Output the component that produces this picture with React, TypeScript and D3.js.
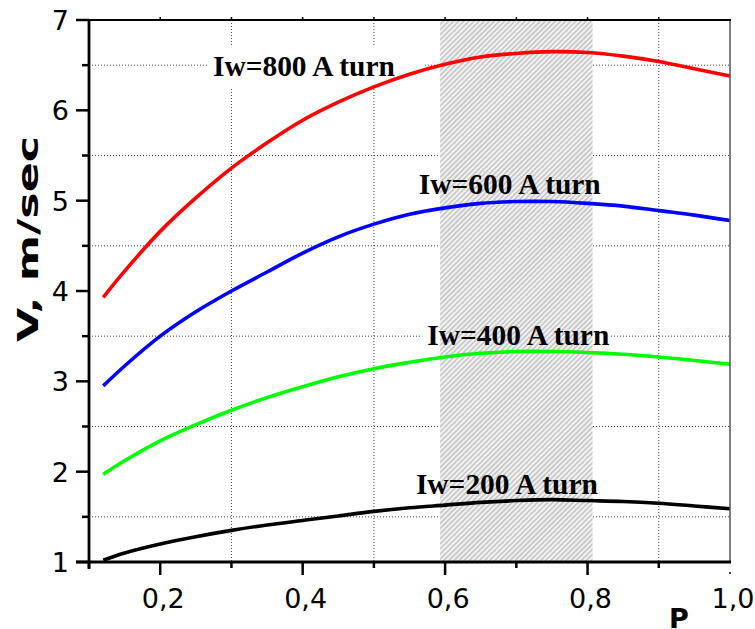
import { useRef, useEffect } from "react"
import * as d3 from "d3"

const pValues = [0.12, 0.15, 0.2, 0.25, 0.3, 0.35, 0.4, 0.45, 0.5, 0.55, 0.6, 0.65, 0.7, 0.75, 0.8, 0.85, 0.9, 0.95, 1.0]
const v800 = [3.93, 4.22, 4.66, 5.03, 5.36, 5.64, 5.89, 6.09, 6.26, 6.4, 6.51, 6.59, 6.63, 6.65, 6.64, 6.6, 6.54, 6.46, 6.38]
const v600 = [2.95, 3.17, 3.5, 3.77, 4.0, 4.21, 4.42, 4.6, 4.74, 4.85, 4.92, 4.97, 4.99, 4.99, 4.97, 4.94, 4.89, 4.84, 4.78]
const v400 = [1.97, 2.12, 2.34, 2.52, 2.68, 2.82, 2.94, 3.05, 3.14, 3.21, 3.27, 3.31, 3.33, 3.33, 3.32, 3.3, 3.27, 3.23, 3.19]
const v200 = [1.02, 1.1, 1.2, 1.28, 1.35, 1.41, 1.46, 1.51, 1.56, 1.6, 1.63, 1.66, 1.68, 1.69, 1.68, 1.67, 1.65, 1.62, 1.59]

const seriesNames = ["Iw=800 A turn", "Iw=600 A turn", "Iw=400 A turn", "Iw=200 A turn"]
const seriesColors = ["#ff0000", "#0000ff", "#00ff00", "#000000"]
const labelP = [0.274, 0.563, 0.575, 0.559]
const labelV = [6.38, 5.07, 3.4, 1.75]

const xMajorTicks = [0.2, 0.4, 0.6, 0.8, 1.0]
const xMinorTicks = [0.1, 0.3, 0.5, 0.7, 0.9]
const xTickLabels = ["0,2", "0,4", "0,6", "0,8", "1,0"]
const yMajorTicks = [1, 2, 3, 4, 5, 6, 7]
const yMinorTicks = [1.5, 2.5, 3.5, 4.5, 5.5, 6.5]
const shadedRange = [0.593, 0.807]

export default function App() {
  const svgRef = useRef<SVGSVGElement | null>(null)

  useEffect(() => {
    if (!svgRef.current) return
    const root = d3.select(svgRef.current)
    root.selectAll("*").remove()

    const left = 89, right = 730, top = 20, bottom = 562

    const x = d3.scaleLinear().domain([0.1, 1.0]).range([left, right])
    const y = d3.scaleLinear().domain([1, 7]).range([bottom, top])

    const sans = "'DejaVu Sans', Verdana, sans-serif"
    const serif = "'Liberation Serif', 'Times New Roman', serif"

    // hatch pattern
    const defs = root.append("defs")
    const pat = defs
      .append("pattern")
      .attr("id", "hatch")
      .attr("patternUnits", "userSpaceOnUse")
      .attr("width", 3.6)
      .attr("height", 3.6)
      .attr("patternTransform", "rotate(45)")
    pat.append("rect").attr("width", 3.6).attr("height", 3.6).attr("fill", "#f3f3f3")
    pat.append("line").attr("x1", 1).attr("x2", 1).attr("y1", 0).attr("y2", 3.6).attr("stroke", "#c4c4c4").attr("stroke-width", 1.6)

    // dotted grid
    const grid = root.append("g").attr("stroke", "#444").attr("stroke-width", 1).attr("stroke-dasharray", "1,2")
    grid
      .selectAll("line.h")
      .data(yMinorTicks)
      .enter()
      .append("line")
      .attr("x1", left)
      .attr("x2", right)
      .attr("y1", (d) => y(d))
      .attr("y2", (d) => y(d))
    grid
      .selectAll("line.v")
      .data(xMinorTicks.filter((d) => d > 0.1))
      .enter()
      .append("line")
      .attr("x1", (d) => x(d))
      .attr("x2", (d) => x(d))
      .attr("y1", top)
      .attr("y2", bottom)

    // white boxes behind labels (hide grid)
    const labelW = 182
    root
      .selectAll("rect.lblbg")
      .data(seriesNames)
      .enter()
      .append("rect")
      .attr("x", (_, i) => x(labelP[i]) - 5)
      .attr("y", (_, i) => y(labelV[i]) - 31)
      .attr("width", (_, i) => (i === 0 ? labelW + 35 : labelW + 6))
      .attr("height", 43)
      .attr("fill", "white")

    // shaded region
    root
      .append("rect")
      .attr("x", x(shadedRange[0]))
      .attr("y", top)
      .attr("width", x(shadedRange[1]) - x(shadedRange[0]))
      .attr("height", bottom - top)
      .attr("fill", "url(#hatch)")

    // curves
    const allSeries = [v800, v600, v400, v200]
    const line = d3
      .line<number>()
      .x((_, i) => x(pValues[i]))
      .y((d) => y(d))
      .curve(d3.curveCatmullRom.alpha(0.5))
    allSeries.forEach((vals, i) => {
      root
        .append("path")
        .datum(vals)
        .attr("fill", "none")
        .attr("stroke", seriesColors[i])
        .attr("stroke-width", 3.6)
        .attr("d", line)
    })

    // series labels
    root
      .selectAll("text.lbl")
      .data(seriesNames)
      .enter()
      .append("text")
      .attr("x", (_, i) => x(labelP[i]))
      .attr("y", (_, i) => y(labelV[i]))
      .attr("font-family", serif)
      .attr("font-weight", "bold")
      .attr("font-size", 30)
      .attr("textLength", labelW)
      .attr("lengthAdjust", "spacingAndGlyphs")
      .attr("fill", "#000")
      .text((d) => d)

    // frame
    root.append("line").attr("x1", right).attr("x2", right).attr("y1", top).attr("y2", bottom).attr("stroke", "#555").attr("stroke-width", 1.5)
    root.append("line").attr("x1", left - 13).attr("x2", right + 1).attr("y1", top).attr("y2", top).attr("stroke", "#000").attr("stroke-width", 2)
    root.append("line").attr("x1", left).attr("x2", left).attr("y1", top).attr("y2", bottom + 7).attr("stroke", "#000").attr("stroke-width", 2.8)
    root.append("line").attr("x1", left - 13).attr("x2", right + 1).attr("y1", bottom).attr("y2", bottom).attr("stroke", "#000").attr("stroke-width", 2.8)

    // y ticks
    root
      .selectAll("line.ymaj")
      .data(yMajorTicks)
      .enter()
      .append("line")
      .attr("x1", left - 13)
      .attr("x2", left)
      .attr("y1", (d) => y(d))
      .attr("y2", (d) => y(d))
      .attr("stroke", "#000")
      .attr("stroke-width", 2.5)
    root
      .selectAll("line.ymin")
      .data(yMinorTicks)
      .enter()
      .append("line")
      .attr("x1", left - 7)
      .attr("x2", left)
      .attr("y1", (d) => y(d))
      .attr("y2", (d) => y(d))
      .attr("stroke", "#000")
      .attr("stroke-width", 2.5)
    root
      .selectAll("text.ytick")
      .data(yMajorTicks)
      .enter()
      .append("text")
      .attr("x", left - 20)
      .attr("y", (d) => y(d) + 10)
      .attr("text-anchor", "end")
      .attr("font-family", sans)
      .attr("font-size", 27)
      .attr("fill", "#000")
      .text((d) => d)

    // x ticks
    root
      .selectAll("line.xmaj")
      .data(xMajorTicks.filter((d) => d < 1))
      .enter()
      .append("line")
      .attr("x1", (d) => x(d))
      .attr("x2", (d) => x(d))
      .attr("y1", bottom)
      .attr("y2", bottom + 13)
      .attr("stroke", "#000")
      .attr("stroke-width", 2.5)
    root
      .selectAll("line.xmin")
      .data(xMinorTicks)
      .enter()
      .append("line")
      .attr("x1", (d) => x(d))
      .attr("x2", (d) => x(d))
      .attr("y1", bottom)
      .attr("y2", bottom + 6)
      .attr("stroke", "#000")
      .attr("stroke-width", 2.5)
    root
      .selectAll("line.xtop")
      .data([...xMajorTicks, ...xMinorTicks].filter((d) => d > 0.1 && d < 1))
      .enter()
      .append("line")
      .attr("x1", (d) => x(d))
      .attr("x2", (d) => x(d))
      .attr("y1", top)
      .attr("y2", top - 3)
      .attr("stroke", "#000")
      .attr("stroke-width", 1.5)
    root
      .append("rect")
      .attr("x", x(1.0) - 1)
      .attr("y", bottom + 10)
      .attr("width", 2)
      .attr("height", 2)
      .attr("fill", "#444")
    root
      .selectAll("text.xtick")
      .data(xMajorTicks)
      .enter()
      .append("text")
      .attr("x", (d) => x(d) + 3)
      .attr("y", bottom + 46)
      .attr("text-anchor", "middle")
      .attr("font-family", sans)
      .attr("font-size", 27)
      .attr("fill", "#000")
      .text((_, i) => xTickLabels[i])

    // axis titles
    root
      .append("text")
      .attr("x", 679)
      .attr("y", 628)
      .attr("text-anchor", "middle")
      .attr("font-family", sans)
      .attr("font-weight", "bold")
      .attr("font-size", 27)
      .attr("fill", "#000")
      .text("P")
    root
      .append("text")
      .attr("transform", "translate(38,239) rotate(-90)")
      .attr("text-anchor", "middle")
      .attr("font-family", sans)
      .attr("font-weight", "bold")
      .attr("font-size", 28)
      .attr("textLength", 206)
      .attr("lengthAdjust", "spacingAndGlyphs")
      .attr("fill", "#000")
      .text("V, m/sec")
  }, [])

  return (
    <svg
      ref={svgRef}
      width={755}
      height={629}
      style={{ position: "absolute", left: 0, top: 0, background: "white" }}
    ></svg>
  )
}
